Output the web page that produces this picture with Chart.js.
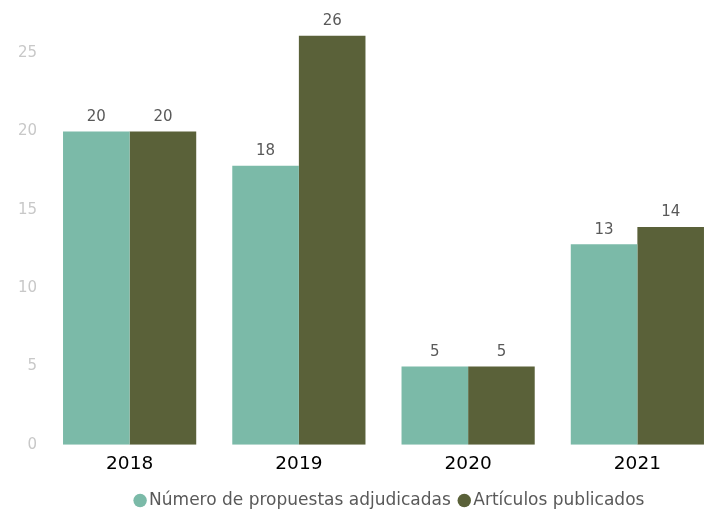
<!DOCTYPE html>
<html>
<head>
<meta charset="utf-8">
<script src="https://cdn.jsdelivr.net/npm/chart.js@4.4.0/dist/chart.umd.min.js"></script>
<style>
  html, body { margin: 0; padding: 0; background: #ffffff; }
  #wrap { width: 706px; height: 516px; position: relative; overflow: hidden; }
  #c { display: block; }
</style>
</head>
<body>
<div id="wrap"><canvas id="c" width="722" height="516"></canvas></div>
<script>
const categories = ['2018', '2019', '2020', '2021'];
const seriesNames = ['Número de propuestas adjudicadas', 'Artículos publicados'];
const propuestas = [20, 17.8, 5, 12.8];
const articulos = [20, 26.1, 5, 13.9];
const yTicks = [0, 5, 10, 15, 20, 25];

const FONT = '"DejaVu Sans", Verdana, sans-serif';

const valueLabels = {
  id: 'valueLabels',
  afterDatasetsDraw(chart) {
    const ctx = chart.ctx;
    ctx.save();
    ctx.font = '15px ' + FONT;
    ctx.fillStyle = '#595959';
    ctx.textAlign = 'center';
    ctx.textBaseline = 'bottom';
    chart.data.datasets.forEach((ds, i) => {
      chart.getDatasetMeta(i).data.forEach((bar, j) => {
        ctx.fillText(Math.round(ds.data[j]).toString(), bar.x, bar.y - 7);
      });
    });
    ctx.restore();
  }
};

const legendShift = {
  id: 'legendShift',
  afterLayout(chart) {
    const lg = chart.legend;
    if (!lg) return;
    lg.left += 31; lg.right += 31;
    lg.top -= 4; lg.bottom -= 4;
  }
};

new Chart(document.getElementById('c'), {
  type: 'bar',
  data: {
    labels: categories,
    datasets: [
      { label: seriesNames[0], data: propuestas, backgroundColor: '#7bbaa8', borderWidth: 0 },
      { label: seriesNames[1], data: articulos, backgroundColor: '#5a6139', borderWidth: 0 }
    ]
  },
  options: {
    responsive: false,
    animation: false,
    layout: { padding: { left: 0, right: 0, top: 0, bottom: 0 } },
    datasets: { bar: { categoryPercentage: 0.787, barPercentage: 1.0 } },
    plugins: {
      legend: {
        position: 'bottom',
        maxHeight: 33,
        labels: {
          usePointStyle: true,
          pointStyle: 'circle',
          boxWidth: 1,
          boxHeight: 9.5,
          padding: 13,
          color: '#595959',
          font: { family: FONT, size: 17 }
        }
      },
      tooltip: { enabled: false }
    },
    scales: {
      x: {
        grid: { display: false, drawTicks: false },
        border: { display: false },
        ticks: { color: '#000000', font: { family: FONT, size: 18.5 }, padding: 8 }
      },
      y: {
        min: 0,
        max: 27.3,
        grid: { display: false, drawTicks: false },
        border: { display: false },
        afterFit(scale) { scale.width = 45; },
        afterBuildTicks(scale) { scale.ticks = yTicks.map(v => ({ value: v })); },
        ticks: { color: '#c8c8c8', font: { family: FONT, size: 15 }, padding: 8 }
      }
    }
  },
  plugins: [valueLabels, legendShift]
});
</script>
</body>
</html>
